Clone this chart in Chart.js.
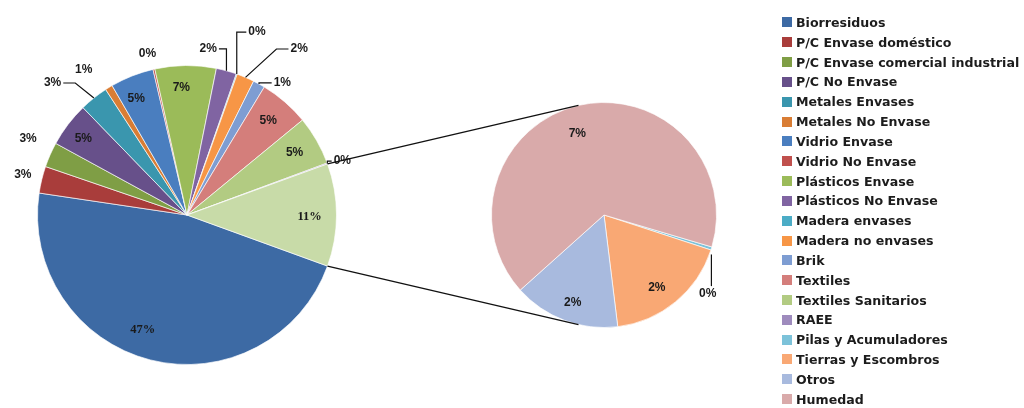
<!DOCTYPE html>
<html>
<head>
<meta charset="utf-8">
<script src="https://cdn.jsdelivr.net/npm/chart.js@4.4.1/dist/chart.umd.min.js"></script>
<style>
  html, body { margin: 0; padding: 0; background: #fff; }
  #wrap { position: relative; width: 1024px; height: 408px; overflow: hidden; }
  #wrap canvas { position: absolute; left: 0; top: 0; }
  #legend {
    position: absolute; left: 782px; top: 12.5px; margin: 0; padding: 0; list-style: none;
    font: bold 12.6px "DejaVu Sans", sans-serif; color: #1c1c1c;
  }
  #legend li { height: 19.84px; display: flex; align-items: center; white-space: nowrap; }
  #legend .box { width: 10px; height: 10px; margin-right: 4px; flex: none; }
</style>
</head>
<body>
<div id="wrap">
  <canvas id="mainPie" width="1024" height="408"></canvas>
  <canvas id="subPie" width="1024" height="408"></canvas>
  <ul id="legend"></ul>
</div>
<script>
// Categorías de la tarta principal
const mainLabels = [
    "Biorresiduos", "P/C Envase doméstico", "P/C Envase comercial industrial",
    "P/C No Envase", "Metales Envases", "Metales No Envase", "Vidrio Envase",
    "Vidrio No Envase", "Plásticos Envase", "Plásticos No Envase",
    "Madera envases", "Madera no envases", "Brik", "Textiles",
    "Textiles Sanitarios", "RAEE"
];
const mainValues = [46.8, 2.9, 2.7, 4.8, 3.1, 0.8, 4.7, 0.2, 6.6, 2.2, 0.1, 1.9, 1.3, 5.4, 5.3, 0.1];
const mainColors = [
    "#3D6AA4", "#A93D3B", "#7F9E45", "#67508A", "#3A96AE", "#D97D34",
    "#4A7EBF", "#C0504D", "#9BBB59", "#8064A2", "#4BACC6", "#F79646",
    "#7E9DD2", "#D47E7B", "#B2CB82", "#9E8BBD"
];

// Desglose mostrado en la tarta secundaria
const subLabels = ["Pilas y Acumuladores", "Tierras y Escombros", "Otros", "Humedad"];
const subValues = [0.05, 2.0, 1.7, 7.35];
const subColors = ["#7CC2D9", "#F9A874", "#A8BADE", "#D9AAAA"];

const restLabel = "Resto";
const restColor = "#C8DBA8";

const subTotal = subValues.reduce((a, b) => a + b, 0);
const grandTotal = mainValues.reduce((a, b) => a + b, 0) + subTotal;

// posición de cada etiqueta: r = fracción del radio, a = giro en grados, leader = línea guía
const mainSpots = [
    {r: 0.82, a: 7, serif: true},
    {r: 1.13, a: 0},
    {r: 1.18, a: 2},
    {r: 0.86, a: -1},
    {r: 1.26, a: -7, leader: "h"},
    {r: 1.19, a: -4},
    {r: 0.85, a: -2},
    {r: 1.11, a: -1},
    {r: 0.85, a: -2},
    {r: 1.12, a: -8, leader: "h"},
    {r: 1.31, a: 1.5, leader: "h"},
    {r: 1.34, a: 11, leader: "h"},
    {r: 1.09, a: 7, leader: "h"},
    {r: 0.83, a: 0},
    {r: 0.83, a: 0},
    {r: 1.10, a: 1, leader: "h"},
    {r: 0.82, a: 1, serif: true}
];
const subSpots = [
    {r: 1.16, a: 20, leader: "v"},
    {r: 0.80, a: 3.5},
    {r: 0.83, a: -1},
    {r: 0.76, a: -5.5}
];

const sliceLabels = {
    id: "sliceLabels",
    afterDatasetsDraw(chart, args, opts) {
        const ctx = chart.ctx;
        const meta = chart.getDatasetMeta(0);
        const values = chart.data.datasets[0].data;
        ctx.save();
        ctx.fillStyle = "#1a1a1a";
        ctx.strokeStyle = "#111";
        ctx.lineWidth = 1.2;
        ctx.textAlign = "center";
        ctx.textBaseline = "middle";
        meta.data.forEach((arc, i) => {
            const spot = opts.spots[i];
            if (!spot) return;
            const {x, y, startAngle, endAngle, outerRadius} = arc;
            const mid = (startAngle + endAngle) / 2;
            const ang = mid + spot.a * Math.PI / 180;
            const lx = x + Math.cos(ang) * outerRadius * spot.r;
            const ly = y + Math.sin(ang) * outerRadius * spot.r;
            const text = Math.round(values[i] / grandTotal * 100) + "%";
            ctx.font = spot.serif ? "bold 12.5px 'Liberation Serif', serif" : "bold 12px 'Liberation Sans', sans-serif";

            if (spot.leader) {
                const ex = x + Math.cos(mid) * outerRadius;
                const ey = y + Math.sin(mid) * outerRadius;
                const hw = ctx.measureText(text).width / 2;
                ctx.beginPath();
                if (spot.leader === "v") {
                    ctx.moveTo(ex, ey + 6);
                    ctx.lineTo(ex, ly - 8);
                } else {
                    const side = ex > lx ? 1 : -1;
                    const tx = lx + side * (hw + 2);
                    const mx = Math.abs(ex - tx) < 22 ? ex : tx + side * 12;
                    ctx.moveTo(ex, ey);
                    ctx.lineTo(mx, ly);
                    ctx.lineTo(tx, ly);
                }
                ctx.stroke();
            }
            ctx.fillText(text, lx, ly);
        });
        ctx.restore();
    }
};

let mainChart = null;

// líneas tangentes que unen la porción "Resto" con la tarta secundaria
const joinLines = {
    id: "joinLines",
    afterDatasetsDraw(chart) {
        if (!mainChart) return;
        const rest = mainChart.getDatasetMeta(0).data[mainValues.length];
        const sub = chart.getDatasetMeta(0).data[0];
        const cx = sub.x, cy = sub.y, r = sub.outerRadius;
        const ctx = chart.ctx;
        ctx.save();
        ctx.strokeStyle = "#111";
        ctx.lineWidth = 1.4;
        [[rest.startAngle, -1], [rest.endAngle, 1]].forEach(([angle, dir]) => {
            const px = rest.x + Math.cos(angle) * rest.outerRadius;
            const py = rest.y + Math.sin(angle) * rest.outerRadius;
            const d = Math.hypot(cx - px, cy - py);
            const phi = Math.atan2(cy - py, cx - px) + dir * Math.asin(r / d);
            const len = Math.sqrt(d * d - r * r);
            ctx.beginPath();
            ctx.moveTo(px, py);
            ctx.lineTo(px + Math.cos(phi) * len, py + Math.sin(phi) * len);
            ctx.stroke();
        });
        ctx.restore();
    }
};

const restShare = subTotal / grandTotal * 360;

mainChart = new Chart(document.getElementById("mainPie"), {
    type: "pie",
    data: {
        labels: mainLabels.concat([restLabel]),
        datasets: [{
            data: mainValues.concat([subTotal]),
            backgroundColor: mainColors.concat([restColor]),
            borderColor: "rgba(255,255,255,0.65)",
            borderWidth: 1
        }]
    },
    options: {
        responsive: false,
        animation: false,
        rotation: 90 + restShare / 2,
        layout: {padding: {left: 37, right: 687, top: 65, bottom: 43}},
        plugins: {
            legend: {display: false},
            tooltip: {enabled: false},
            sliceLabels: {spots: mainSpots}
        }
    },
    plugins: [sliceLabels]
});

const subChart = new Chart(document.getElementById("subPie"), {
    type: "pie",
    data: {
        labels: subLabels,
        datasets: [{
            data: subValues,
            backgroundColor: subColors,
            borderColor: "rgba(255,255,255,0.65)",
            borderWidth: 1
        }]
    },
    options: {
        responsive: false,
        animation: false,
        rotation: 106.5,
        layout: {padding: {left: 491, right: 307, top: 102, bottom: 80}},
        plugins: {
            legend: {display: false},
            tooltip: {enabled: false},
            sliceLabels: {spots: subSpots}
        }
    },
    plugins: [joinLines, sliceLabels]
});

// leyenda HTML a partir de los elementos que genera Chart.js
const legendItems = mainChart.options.plugins.legend.labels.generateLabels(mainChart)
    .slice(0, mainLabels.length)
    .concat(subChart.options.plugins.legend.labels.generateLabels(subChart));

const legendEl = document.getElementById("legend");
legendItems.forEach(item => {
    const li = document.createElement("li");
    const box = document.createElement("span");
    box.className = "box";
    box.style.background = item.fillStyle;
    li.appendChild(box);
    li.appendChild(document.createTextNode(item.text));
    legendEl.appendChild(li);
});
</script>
</body>
</html>
